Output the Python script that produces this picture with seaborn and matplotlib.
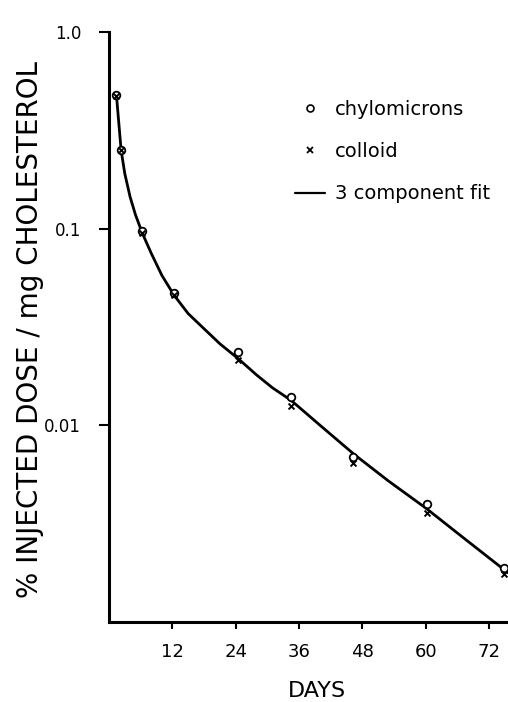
import matplotlib
matplotlib.use("Agg")
import matplotlib.pyplot as plt
from matplotlib.lines import Line2D
import seaborn as sns
import pandas as pd

# ---- data ----
chylo_days = [1.4, 2.3, 6.3, 12.3, 24.5, 34.4, 46.3, 60.2, 74.9]
chylo_vals = [0.48, 0.25, 0.097, 0.047, 0.0235, 0.0140, 0.0069, 0.0040, 0.00188]

colloid_days = [1.4, 2.3, 6.3, 12.3, 24.5, 34.4, 46.3, 60.2, 74.9]
colloid_vals = [0.47, 0.25, 0.095, 0.046, 0.0215, 0.0126, 0.0064, 0.0036, 0.00176]

fit_days = [1.4, 2.3, 3.0, 4.0, 5.0, 6.3, 8.0, 10.0, 12.3, 15.0, 18.0, 21.0,
            24.5, 28.0, 31.0, 34.5, 40.0, 46.5, 53.0, 60.0, 67.0, 75.6]
fit_vals = [0.48, 0.25, 0.19, 0.145, 0.118, 0.095, 0.075, 0.058, 0.046, 0.037,
            0.031, 0.026, 0.0218, 0.0180, 0.0155, 0.0134, 0.0100, 0.0071, 0.0052,
            0.0038, 0.0027, 0.00178]

x_ticks = [12, 24, 36, 48, 60, 72]
y_ticks = [1.0, 0.1, 0.01]
y_ticklabels = ["1.0", "0.1", "0.01"]
legend_labels = ["chylomicrons", "colloid", "3 component fit"]

sns.set_style("ticks")
plt.rcParams["font.family"] = ["DejaVu Sans"]
plt.rcParams["text.color"] = "black"
plt.rcParams["xtick.color"] = "black"
plt.rcParams["ytick.color"] = "black"

W, H = 508, 702
fig = plt.figure(figsize=(W / 100, H / 100), dpi=100)
ax = fig.add_axes([109 / W, 1 - 622 / H, 1 - 109 / W, (622 - 32) / H])

fit_df = pd.DataFrame({"day": fit_days, "val": fit_vals})
ch_df = pd.DataFrame({"day": chylo_days, "val": chylo_vals})
co_df = pd.DataFrame({"day": colloid_days, "val": colloid_vals})

sns.lineplot(data=fit_df, x="day", y="val", ax=ax, color="black", lw=2.0,
             sort=False, estimator=None)
sns.scatterplot(data=ch_df, x="day", y="val", ax=ax, marker="o", s=30,
                facecolor="white", edgecolor="black", linewidth=1.3,
                zorder=3, clip_on=False)
sns.scatterplot(data=co_df, x="day", y="val", ax=ax, marker="x", s=18,
                color="black", linewidth=1.4, zorder=4, clip_on=False)

ax.set_yscale("log")
ax.set_ylim(0.001, 1.0)
ax.set_xlim(0, 75.6)
ax.set_yticks(y_ticks)
ax.set_yticklabels(y_ticklabels)
ax.yaxis.set_minor_locator(matplotlib.ticker.NullLocator())
ax.set_xticks(x_ticks)
ax.set_xticklabels([str(t) for t in x_ticks])

for s in ["top", "right"]:
    ax.spines[s].set_visible(False)
for s in ["left", "bottom"]:
    ax.spines[s].set_linewidth(2.2)
    ax.spines[s].set_color("black")
ax.tick_params(axis="y", length=7, width=1.5, labelsize=12, pad=13,
               colors="black", labelcolor="black")
ax.tick_params(axis="x", length=5, width=1.5, labelsize=13, pad=10,
               colors="black", labelcolor="black")

ax.set_xlabel("")
ax.set_ylabel("")
fig.text(317 / W, 1 - 691 / H, "DAYS", fontsize=16, ha="center", va="center",
         color="black")
fig.text(30 / W, 1 - 330 / H, "% INJECTED DOSE / mg CHOLESTEROL", fontsize=20,
         rotation=90, ha="center", va="center", color="black")

handles = [
    Line2D([], [], marker="o", ls="none", markerfacecolor="white",
           markeredgecolor="black", markersize=5, markeredgewidth=1.2),
    Line2D([], [], marker="x", ls="none", color="black", markersize=4.5,
           markeredgewidth=1.3),
    Line2D([], [], color="black", lw=1.6),
]
leg = fig.legend(handles, legend_labels, loc="upper left",
                 bbox_to_anchor=(287 / W, 1 - 92 / H), borderaxespad=0,
                 frameon=False, fontsize=14, handlelength=1.55,
                 handletextpad=0.5, labelspacing=1.2)
for t in leg.get_texts():
    t.set_color("black")

fig.savefig("out.png", dpi=100)
